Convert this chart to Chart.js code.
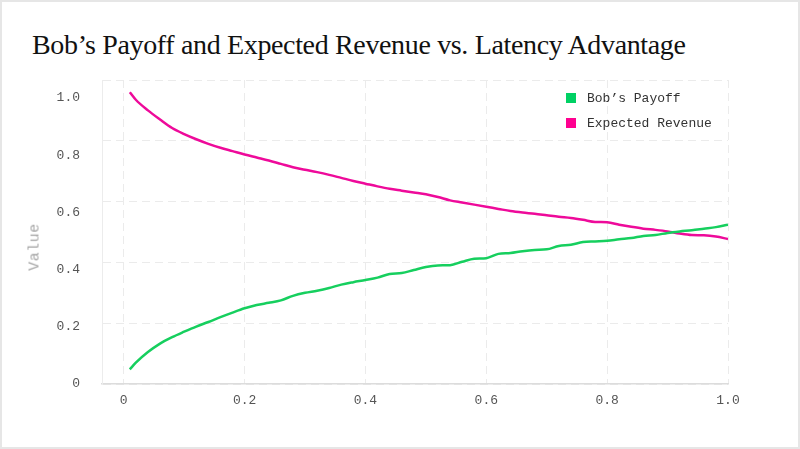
<!DOCTYPE html>
<html>
<head>
<meta charset="utf-8">
<script src="https://cdn.jsdelivr.net/npm/chart.js@4"></script>
<style>
  html, body { margin: 0; padding: 0; background: #fff; }
  .card {
    position: relative;
    width: 800px;
    height: 449px;
    box-sizing: border-box;
    border: 2px solid #e6e6e6;
    overflow: hidden;
  }
  .card h1 {
    position: absolute;
    left: 30px;
    top: 27px;
    margin: 0;
    font-family: "Liberation Serif", "DejaVu Serif", serif;
    font-weight: normal;
    font-size: 28px;
    letter-spacing: -0.35px;
    color: #111;
    white-space: nowrap;
  }
  .card canvas { position: absolute; left: -2px; top: -2px; }
  .legenda {
    position: absolute;
    left: 564px;
    top: 89px;
    font-family: "Liberation Mono", "DejaVu Sans Mono", monospace;
    font-size: 13px;
    color: #333;
  }
  .legenda div { height: 25px; line-height: 16px; white-space: nowrap; }
  .legenda span.caixa {
    display: inline-block;
    width: 10px;
    height: 10px;
    margin-right: 11px;
    vertical-align: -1px;
  }
  .titulo-y {
    position: absolute;
    left: 33px;
    top: 245px;
    transform: translate(-50%, -50%) rotate(-90deg);
    font-family: "Liberation Mono", "DejaVu Sans Mono", monospace;
    font-weight: normal;
    font-size: 15px;
    letter-spacing: 0.5px;
    color: #a6a6a6;
    white-space: nowrap;
  }
</style>
</head>
<body>
<div class="card">
  <h1>Bob’s Payoff and Expected Revenue vs. Latency Advantage</h1>
  <canvas id="grafico" width="800" height="449"></canvas>
  <div class="titulo-y">Value</div>
  <div class="legenda" id="legenda"></div>
</div>
<script>
// Vantagem de latência (eixo x)
const latencia = [0.01, 0.02, 0.04, 0.06, 0.08, 0.10, 0.12, 0.14, 0.16, 0.18,
    0.20, 0.22, 0.24, 0.26, 0.28, 0.30, 0.32, 0.34, 0.36, 0.38,
    0.40, 0.42, 0.44, 0.46, 0.48, 0.50, 0.52, 0.54, 0.56, 0.58,
    0.60, 0.62, 0.64, 0.66, 0.68, 0.70, 0.72, 0.74, 0.76, 0.78,
    0.80, 0.82, 0.84, 0.86, 0.88, 0.90, 0.92, 0.94, 0.96, 0.98, 1.00];

const payoffBob = [0.048, 0.070, 0.105, 0.133, 0.154, 0.172, 0.189, 0.204, 0.220, 0.235,
    0.249, 0.260, 0.267, 0.275, 0.290, 0.300, 0.307, 0.316, 0.327, 0.335,
    0.342, 0.350, 0.362, 0.365, 0.375, 0.385, 0.390, 0.391, 0.402, 0.412,
    0.414, 0.428, 0.431, 0.437, 0.441, 0.443, 0.454, 0.458, 0.467, 0.469,
    0.471, 0.476, 0.480, 0.487, 0.490, 0.497, 0.502, 0.506, 0.511, 0.516, 0.524];

const receitaEsperada = [0.960, 0.935, 0.900, 0.870, 0.842, 0.822, 0.805, 0.790, 0.777, 0.766,
    0.755, 0.745, 0.735, 0.724, 0.713, 0.705, 0.697, 0.688, 0.678, 0.668,
    0.659, 0.650, 0.642, 0.636, 0.630, 0.624, 0.615, 0.604, 0.597, 0.590,
    0.583, 0.576, 0.569, 0.564, 0.560, 0.555, 0.550, 0.546, 0.540, 0.533,
    0.532, 0.524, 0.517, 0.511, 0.507, 0.502, 0.495, 0.490, 0.489, 0.485, 0.477];

const ticksX = [0, 0.2, 0.4, 0.6, 0.8, 1.0];
const ticksY = [0, 0.2, 0.4, 0.6, 0.8, 1.0];

const series = [
    { nome: 'Bob’s Payoff', valores: payoffBob, cor: '#16cf5e', corCaixa: '#00d164' },
    { nome: 'Expected Revenue', valores: receitaEsperada, cor: '#ee0a9a', corCaixa: '#ff0090' }
];

const fonteMono = '"Liberation Mono", "DejaVu Sans Mono", monospace';
const formatar = v => (v === 0 ? '0' : v.toFixed(1));

function criarGrafico() {
    const ctx = document.getElementById('grafico').getContext('2d');
    new Chart(ctx, {
        type: 'line',
        data: {
            datasets: series.map(s => ({
                label: s.nome,
                data: latencia.map((x, i) => ({ x: x, y: s.valores[i] })),
                borderColor: s.cor,
                backgroundColor: s.cor,
                borderWidth: 2.5,
                pointRadius: 0,
                cubicInterpolationMode: 'monotone',
                yAxisID: 'y'
            }))
        },
        options: {
            responsive: false,
            animation: false,
            layout: { padding: { top: 80, right: 72, bottom: 0, left: 0 } },
            plugins: {
                legend: { display: false },
                tooltip: { enabled: false }
            },
            scales: {
                x: {
                    type: 'linear',
                    min: -0.036,
                    max: 1.0,
                    afterBuildTicks: axis => { axis.ticks = ticksX.map(v => ({ value: v })); },
                    afterFit: axis => { axis.height = 65; },
                    grid: { color: '#ebebeb', drawTicks: false },
                    border: { color: '#dcdcdc', width: 1.5, dash: [8, 5] },
                    ticks: {
                        padding: 9,
                        color: '#555',
                        font: { family: fonteMono, size: 13 },
                        callback: v => formatar(v)
                    }
                },
                y: {
                    position: 'left',
                    weight: 0,
                    min: 0,
                    max: 1.0,
                    afterBuildTicks: axis => { axis.ticks = ticksY.map(v => ({ value: v })); },
                    afterFit: axis => { axis.width = 0; },
                    grid: { color: '#ebebeb', drawTicks: false },
                    border: { color: '#ececec', width: 1, dash: [8, 5] },
                    ticks: { display: false }
                },
                // eixo só para os rótulos (eles ficam um pouco deslocados no original)
                yRotulos: {
                    position: 'left',
                    weight: 1,
                    min: 0,
                    max: 1.063,
                    afterBuildTicks: axis => { axis.ticks = ticksY.map(v => ({ value: v })); },
                    afterFit: axis => { axis.width = 102; },
                    grid: { display: false },
                    border: { display: false },
                    ticks: {
                        padding: 14,
                        color: '#555',
                        font: { family: fonteMono, size: 13 },
                        callback: v => formatar(v)
                    }
                }
            }
        }
    });
}

function montarLegenda() {
    const el = document.getElementById('legenda');
    series.forEach(s => {
        const linha = document.createElement('div');
        const caixa = document.createElement('span');
        caixa.className = 'caixa';
        caixa.style.background = s.corCaixa;
        linha.appendChild(caixa);
        linha.appendChild(document.createTextNode(s.nome));
        el.appendChild(linha);
    });
}

montarLegenda();
criarGrafico();
</script>
</body>
</html>
